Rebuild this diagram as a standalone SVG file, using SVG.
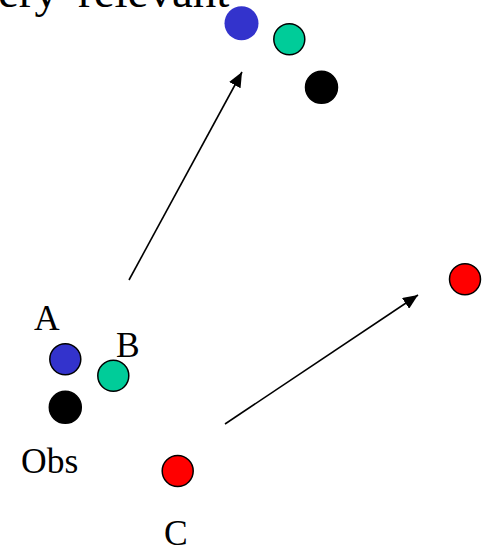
<svg xmlns="http://www.w3.org/2000/svg" width="485" height="551" viewBox="0 0 485 551">
<defs>
<style>
.lbl{font-family:"Liberation Serif","Times New Roman",serif;font-size:35.5px;fill:#000}
.ttl{font-family:"Liberation Serif","Times New Roman",serif;font-size:47px;fill:#000}
.green{fill:#00cc99;stroke:#000;stroke-width:1.5}
.blue{fill:#3333cc;stroke:#000;stroke-width:1.5}
.black{fill:#000;stroke:#000;stroke-width:1.5}
.red{fill:#ff0000;stroke:#000;stroke-width:1.5}
.conn{stroke:#000;stroke-width:1.6;fill:none;marker-end:url(#ah)}
</style>
<marker id="ah" markerUnits="userSpaceOnUse" markerWidth="16" markerHeight="13" refX="15" refY="6.5" orient="auto" viewBox="0 0 16 13">
<path d="M0,0 L15,6.5 L0,13 z" fill="#000"/>
</marker>
</defs>
<g id="title">
<text class="ttl" y="7"><tspan x="-2">ery</tspan><tspan x="78">relevant</tspan></text>
</g>
<g id="connectors">
<line class="conn" x1="129" y1="280" x2="242" y2="72"/>
<line class="conn" x1="225" y1="424" x2="418" y2="295"/>
</g>
<g id="top-blue"><circle cx="241.5" cy="23.3" r="17" fill="#3333cc"/></g>
<g id="top-green"><circle class="green" cx="289.3" cy="39.3" r="15.5"/></g>
<g id="top-black"><circle class="black" cx="321.5" cy="87.3" r="16"/></g>
<g id="node-A"><circle class="blue" cx="65.3" cy="359.3" r="15.5"/><text class="lbl" x="34" y="330">A</text></g>
<g id="node-B"><circle class="green" cx="113.3" cy="375.7" r="15.5"/><text class="lbl" x="116" y="357">B</text></g>
<g id="node-Obs"><circle class="black" cx="65.3" cy="407.3" r="16"/><text class="lbl" x="21" y="473">Obs</text></g>
<g id="node-C"><circle class="red" cx="177.7" cy="471" r="15.5"/><text class="lbl" x="164" y="545">C</text></g>
<g id="right-red"><circle class="red" cx="465" cy="279.3" r="15.5"/></g>
</svg>
